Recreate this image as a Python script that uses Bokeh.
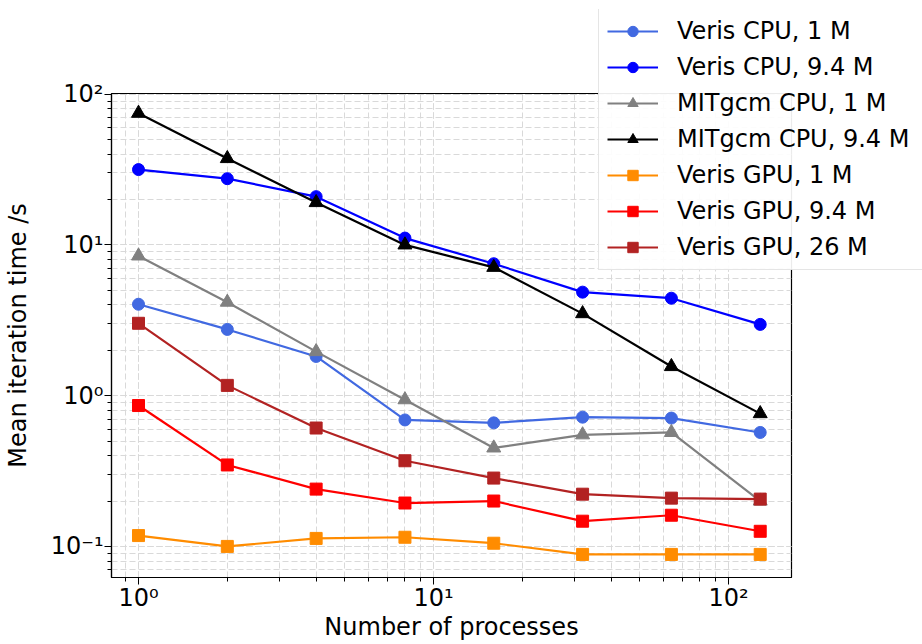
from bokeh.plotting import figure
from bokeh.models import Range1d, Legend, LegendItem, LogTicker
from bokeh.embed import file_html
from bokeh.resources import INLINE

processes = [1, 2, 4, 8, 16, 32, 64, 128]
veris_cpu_1m = [4.04, 2.75, 1.82, 0.69, 0.66, 0.72, 0.71, 0.57]
veris_cpu_94m = [31.6, 27.5, 20.9, 11.1, 7.5, 4.86, 4.43, 2.97]
mitgcm_cpu_1m = [8.45, 4.17, 1.96, 0.94, 0.45, 0.55, 0.57, 0.20]
mitgcm_cpu_94m = [74.7, 37.4, 19.1, 10.0, 7.1, 3.5, 1.56, 0.76]
veris_gpu_1m = [0.118, 0.100, 0.113, 0.115, 0.105, 0.0885, 0.0885, 0.0885]
veris_gpu_94m = [0.86, 0.347, 0.24, 0.194, 0.20, 0.147, 0.161, 0.126]
veris_gpu_26m = [3.02, 1.17, 0.61, 0.37, 0.284, 0.222, 0.209, 0.206]

labels = ["Veris CPU, 1 M", "Veris CPU, 9.4 M", "MITgcm CPU, 1 M", "MITgcm CPU, 9.4 M",
          "Veris GPU, 1 M", "Veris GPU, 9.4 M", "Veris GPU, 26 M"]
values = [veris_cpu_1m, veris_cpu_94m, mitgcm_cpu_1m, mitgcm_cpu_94m,
          veris_gpu_1m, veris_gpu_94m, veris_gpu_26m]
colors = ["#4169E1", "#0000FF", "#808080", "#000000", "#FF8C00", "#FF0000", "#B22222"]
markers = ["circle", "circle", "triangle", "triangle", "square", "square", "square"]
sizes = [12, 12, 14, 14, 12, 12, 12]

FONT = "DejaVu Sans"

p = figure(width=922, height=644, x_axis_type="log", y_axis_type="log",
           x_range=Range1d(0.81, 163.4), y_range=Range1d(0.0622, 101),
           output_backend="svg", toolbar_location=None,
           min_border_left=110, min_border_right=131, min_border_top=93, min_border_bottom=67)

p.background_fill_color = "white"
p.border_fill_color = "white"
p.outline_line_color = "black"
p.outline_line_width = 1.2

for ax in (p.xaxis[0], p.yaxis[0]):
    ax.axis_line_color = "black"
    ax.axis_line_width = 1.2
    ax.major_tick_line_color = "black"
    ax.minor_tick_line_color = "black"
    ax.major_tick_out = 7
    ax.major_tick_in = 0
    ax.minor_tick_out = 4
    ax.minor_tick_in = 0
    ax.major_label_text_font = FONT
    ax.major_label_text_font_size = "24px"
    ax.major_label_text_color = "black"
    ax.axis_label_text_font = FONT
    ax.axis_label_text_font_size = "24px"
    ax.axis_label_text_font_style = "normal"
    ax.axis_label_text_color = "black"

p.xaxis[0].ticker = LogTicker(num_minor_ticks=10)
p.yaxis[0].ticker = LogTicker(num_minor_ticks=10)
p.xaxis[0].major_label_overrides = {1: "10⁰", 10: "10¹", 100: "10²"}
p.yaxis[0].major_label_overrides = {0.1: "10⁻¹", 1: "10⁰", 10: "10¹", 100: "10²"}
p.xaxis[0].axis_label = "Number of processes"
p.yaxis[0].axis_label = "Mean iteration time /s"
p.xaxis[0].major_label_standoff = -1
p.xaxis[0].axis_label_standoff = -2
p.yaxis[0].major_label_standoff = 1
p.yaxis[0].axis_label_standoff = 16

for g in (p.xgrid[0], p.ygrid[0]):
    g.grid_line_color = "#d9d9d9"
    g.grid_line_dash = "6 3"
    g.grid_line_width = 1
    g.minor_grid_line_color = "#d9d9d9"
    g.minor_grid_line_dash = "6 3"
    g.minor_grid_line_width = 1

for vals, color, marker, size in zip(values, colors, markers, sizes):
    p.line(processes, vals, line_color=color, line_width=2.2)
    p.scatter(processes, vals, marker=marker, size=size, fill_color=color, line_color=color)

# separate overlay figure holding only the legend (it overhangs the plot frame);
# its ranges are set far away so the series drawn there stay out of view
lf = figure(width=325, height=262, toolbar_location=None, output_backend="svg",
            x_range=Range1d(1e6, 2e6), y_range=Range1d(1e6, 2e6), min_border=0,
            x_axis_location=None, y_axis_location=None)
lf.xgrid.visible = False
lf.ygrid.visible = False
lf.outline_line_color = None
lf.background_fill_alpha = 0
lf.border_fill_alpha = 0

items = []
for label, vals, color, marker, size in zip(labels, values, colors, markers, sizes):
    r1 = lf.line(processes, vals, line_color=color, line_width=2.2)
    r2 = lf.scatter(processes, vals, marker=marker, size=size, fill_color=color, line_color=color)
    items.append(LegendItem(label=label, renderers=[r1, r2]))

legend = Legend(items=items, location=(1, 1))
legend.label_text_font = FONT
legend.label_text_font_size = "24px"
legend.label_text_color = "black"
legend.glyph_width = 51
legend.glyph_height = 26
legend.label_height = 26
legend.label_width = 262
legend.label_standoff = 19
legend.spacing = 8
legend.padding = 8
legend.margin = 0
legend.border_line_color = "#cccccc"
legend.border_line_width = 1
legend.background_fill_color = "white"
legend.background_fill_alpha = 0.92
lf.add_layout(legend)

lf.styles = {"position": "absolute", "left": "597px", "top": "9px", "z-index": "10"}

open("out.html", "w").write(file_html([p, lf], INLINE))
